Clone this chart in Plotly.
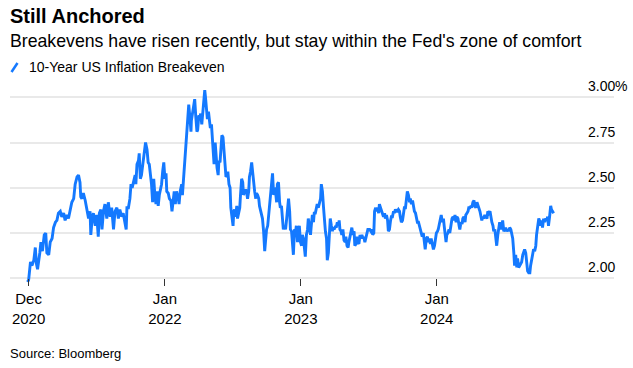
import pandas as pd
import plotly.graph_objects as go

# ---- data ----
start_date = "2020-12-31"
day_offsets = [
    -3, 0, 5, 9, 14, 18, 21, 24, 30, 33, 37, 42, 46, 49, 54, 58, 63, 67, 72, 76, 80, 85, 89, 94, 98,
    103, 107, 112, 116, 121, 125, 130, 134, 138, 140, 143, 147, 152, 156, 161, 165, 167, 171, 174,
    179, 183, 187, 190, 194, 197, 201, 205, 210, 214, 219, 223, 228, 232, 237, 241, 245, 250, 254, 259,
    262, 264, 268, 272, 275, 278, 282, 286, 288, 291, 295, 297, 300, 303, 306, 310, 314, 318, 321, 324,
    328, 330, 333, 336, 339, 342, 345, 348, 351, 354, 357, 360, 363, 366, 369, 371, 375, 378, 382, 385,
    388, 391, 394, 397, 402, 404, 407, 411, 413, 416, 419, 422, 425, 427, 430, 433, 436, 437, 440, 444,
    446, 449, 452, 454, 457, 460, 462, 465, 468, 470, 473, 475, 477, 480, 483, 485, 488, 491, 493, 496,
    498, 501, 503, 506, 509, 511, 514, 517, 519, 522, 525, 527, 530, 533, 535, 538, 541, 543, 546, 549,
    551, 553,
    556, 559, 561, 564, 567, 569, 572, 575, 577, 580, 583, 585, 588, 591, 593, 596, 599, 602, 604, 607,
    610, 612, 615, 618, 620, 623, 626, 628, 631, 634, 636, 639, 642, 644, 647, 650, 652, 655, 658, 660,
    663, 666, 668, 671, 674, 676, 679, 682, 684, 687, 690, 693, 695, 698, 701, 703, 706, 709, 711, 714,
    717, 719, 722, 725, 727, 730, 733, 735, 738, 741, 743, 746, 749, 751, 754, 757, 759, 762, 765, 767,
    770, 773, 775, 778, 781, 784, 786, 789, 792, 794, 797, 800, 802, 805, 808, 810, 813, 816, 818, 821,
    824, 826, 829, 832, 834,
    836, 839, 841, 844, 847, 850, 852, 855, 858, 860, 863, 866, 868, 871, 874, 876, 879, 882, 884, 887,
    890, 892, 895, 898, 900, 903, 906, 908, 911, 914, 916, 919, 922, 924, 927, 929, 932, 934, 937, 940,
    942, 945, 948, 950, 953, 956, 958, 961, 964, 966, 969, 972, 974, 977, 980, 982, 985, 988, 990, 993,
    996, 998, 1001, 1004, 1007, 1009, 1012, 1015, 1017, 1020, 1023, 1025, 1028, 1031, 1033, 1036, 1039,
    1041, 1044, 1047, 1049, 1052, 1055, 1057, 1060, 1063, 1065, 1068, 1071, 1073, 1076, 1079, 1081, 1084,
    1087, 1090, 1092, 1095, 1098, 1100, 1103, 1106, 1108, 1111, 1114,
    1116, 1118, 1121, 1123, 1126, 1129, 1131, 1134, 1137, 1140, 1142, 1145, 1148, 1150, 1153, 1156, 1158,
    1161, 1164, 1166, 1169, 1172, 1174, 1177, 1180, 1182, 1185, 1188, 1190, 1193, 1196, 1198, 1201, 1204,
    1206, 1209, 1212, 1214, 1217, 1220, 1222, 1225, 1228, 1231, 1233, 1236, 1239, 1241, 1244, 1247, 1249,
    1252, 1255, 1257, 1260, 1263, 1265, 1268, 1271, 1273, 1276, 1279, 1281, 1284, 1287, 1289, 1292, 1295,
    1297, 1300, 1303, 1305, 1308, 1311, 1313, 1316, 1319, 1322, 1324, 1327, 1330, 1332, 1335, 1338, 1340,
    1343, 1346, 1348, 1351, 1354, 1356, 1359, 1362, 1364, 1367, 1370, 1372, 1375, 1378, 1380, 1383, 1386,
    1388, 1391, 1394, 1396, 1399, 1402, 1404, 1407, 1410,
]
breakeven = [
    1.98, 1.99, 2.09, 2.07, 2.10, 2.17, 2.08, 2.05, 2.14, 2.20, 2.15, 2.24, 2.25, 2.14, 2.13, 2.20, 2.22,
    2.28, 2.31, 2.32, 2.36, 2.37, 2.34, 2.36, 2.32, 2.35, 2.33, 2.39, 2.42, 2.44, 2.52, 2.56, 2.57, 2.53,
    2.45, 2.44, 2.47, 2.43, 2.39, 2.33, 2.37, 2.24, 2.34, 2.36, 2.29, 2.35, 2.23, 2.36, 2.38, 2.27, 2.37,
    2.41, 2.33, 2.42, 2.34, 2.39, 2.27, 2.37, 2.39, 2.33, 2.38, 2.34, 2.36, 2.31,
    2.27, 2.39, 2.39, 2.44, 2.52, 2.50, 2.54, 2.57, 2.52, 2.63, 2.65, 2.69, 2.55, 2.57, 2.62, 2.70, 2.75,
    2.71, 2.64, 2.63, 2.57, 2.52, 2.42, 2.55, 2.46, 2.41, 2.48, 2.40, 2.46, 2.50, 2.52, 2.59, 2.64, 2.55,
    2.58, 2.48, 2.47, 2.44, 2.43, 2.37, 2.43, 2.48, 2.41, 2.48, 2.44, 2.41, 2.48, 2.52, 2.46, 2.55, 2.61,
    2.70, 2.81, 2.90, 2.96, 2.89, 2.81, 2.87, 2.92, 2.98, 2.99, 2.89, 2.81, 2.82, 2.90, 2.89, 2.91, 2.85,
    2.92, 2.98, 3.04, 3.00, 2.94, 2.88, 2.92, 2.87, 2.83, 2.85, 2.79, 2.70, 2.63, 2.75, 2.66, 2.61, 2.57,
    2.65, 2.64, 2.77, 2.79, 2.78, 2.70, 2.64, 2.56, 2.57, 2.59, 2.52, 2.50, 2.39, 2.34, 2.29, 2.37, 2.38,
    2.34, 2.40, 2.33, 2.37, 2.39, 2.46, 2.55, 2.53, 2.46, 2.48, 2.49, 2.48, 2.44, 2.48, 2.56, 2.59, 2.64,
    2.58, 2.52, 2.48, 2.44, 2.47, 2.46, 2.44, 2.40, 2.37, 2.36, 2.33, 2.26, 2.15, 2.20, 2.27, 2.29, 2.33,
    2.39, 2.46, 2.52, 2.58, 2.46, 2.50, 2.48, 2.42, 2.52, 2.53, 2.42, 2.39, 2.40, 2.34, 2.27, 2.29, 2.27,
    2.33, 2.37, 2.44, 2.37, 2.27, 2.26, 2.20, 2.13, 2.27, 2.26, 2.29, 2.20, 2.27, 2.29, 2.20, 2.18, 2.24,
    2.22, 2.16, 2.12, 2.24, 2.27, 2.33, 2.27, 2.24, 2.29, 2.35, 2.31, 2.36, 2.36, 2.39, 2.41, 2.39, 2.42,
    2.44, 2.52, 2.48, 2.39, 2.31, 2.26, 2.22, 2.10, 2.14, 2.25, 2.33, 2.29, 2.26, 2.28, 2.27, 2.29, 2.28,
    2.31, 2.29, 2.32,
    2.27, 2.26, 2.24, 2.27, 2.21, 2.20, 2.23, 2.18, 2.17, 2.20, 2.24, 2.27, 2.28, 2.24, 2.26, 2.18, 2.19,
    2.23, 2.20, 2.19, 2.24, 2.22, 2.24, 2.22, 2.23, 2.20, 2.23, 2.26, 2.27, 2.27, 2.27, 2.26, 2.27, 2.24,
    2.25, 2.37, 2.39, 2.37, 2.39, 2.36, 2.41, 2.39, 2.37, 2.36, 2.34, 2.36, 2.33, 2.35, 2.32, 2.26, 2.27,
    2.32, 2.34, 2.34, 2.37, 2.36, 2.38, 2.37, 2.37, 2.38, 2.37, 2.34, 2.31, 2.32, 2.36, 2.39, 2.39, 2.43,
    2.48, 2.46, 2.42, 2.44, 2.41, 2.43, 2.40, 2.37, 2.36, 2.33, 2.31, 2.31, 2.29, 2.26, 2.24, 2.23, 2.25,
    2.20, 2.16, 2.22, 2.23, 2.20, 2.22, 2.19, 2.22, 2.19, 2.16, 2.18, 2.22, 2.25, 2.26, 2.27, 2.30, 2.34,
    2.35, 2.31, 2.33,
    2.29, 2.26, 2.20, 2.24, 2.25, 2.27, 2.25, 2.29, 2.33, 2.34, 2.32, 2.35, 2.31, 2.34, 2.33, 2.29, 2.27,
    2.31, 2.30, 2.33, 2.34, 2.31, 2.35, 2.36, 2.37, 2.39, 2.39, 2.40, 2.39, 2.42, 2.43, 2.40, 2.39, 2.42,
    2.41, 2.39, 2.37, 2.35, 2.32, 2.34, 2.33, 2.35, 2.34, 2.33, 2.37, 2.36, 2.37, 2.33, 2.31, 2.29, 2.26,
    2.27, 2.22, 2.18, 2.24, 2.27, 2.31, 2.27, 2.29, 2.32, 2.26, 2.27, 2.28, 2.26, 2.27, 2.26, 2.28, 2.27,
    2.25, 2.22, 2.14, 2.07, 2.13, 2.06, 2.11, 2.06, 2.07, 2.09, 2.09, 2.13, 2.15, 2.16, 2.14, 2.06, 2.04,
    2.03, 2.03, 2.07, 2.11, 2.14, 2.16, 2.15, 2.18, 2.24, 2.28, 2.33, 2.32, 2.29, 2.32, 2.28, 2.33, 2.31,
    2.33, 2.32, 2.34, 2.29, 2.34, 2.40, 2.38, 2.37, 2.36,
]
x_tick_dates = ["2020-12-31", "2022-01-01", "2023-01-01", "2024-01-01"]
x_tick_labels = ["Dec<br>2020", "Jan<br>2022", "Jan<br>2023", "Jan<br>2024"]
y_tick_values = [2.00, 2.25, 2.50, 2.75, 3.00]
y_tick_labels = ["2.00", "2.25", "2.50", "2.75", "3.00"]
series_name = "10-Year US Inflation Breakeven"

BLUE = "#1479ff"
FONT = "Liberation Sans, Arial, sans-serif"

dates = pd.Timestamp(start_date) + pd.to_timedelta(day_offsets, unit="D")

fig = go.Figure()
fig.add_trace(go.Scatter(
    x=dates, y=breakeven, mode="lines", name=series_name,
    line=dict(color=BLUE, width=2.9), showlegend=False, hoverinfo="skip",
))

fig.update_layout(
    width=633, height=368,
    margin=dict(l=10, r=19, t=86, b=82),
    paper_bgcolor="white", plot_bgcolor="white",
    font=dict(family=FONT, color="#000000"),
)
fig.update_xaxes(
    range=["2020-11-11", "2025-04-21"],
    tickmode="array", tickvals=x_tick_dates, ticktext=x_tick_labels,
    ticks="inside", ticklen=7, tickwidth=1, tickcolor="#333333",
    ticklabelstandoff=2,
    showgrid=False, showline=False, zeroline=False,
    tickfont=dict(size=15, color="#000000", family=FONT),
)
fig.update_yaxes(
    range=[1.9575, 3.0624],
    tickmode="array", tickvals=y_tick_values, showticklabels=False,
    showgrid=True, gridcolor="#e9e9e9", gridwidth=1.5,
    zeroline=False, showline=False,
)

# baseline at 2.00
fig.add_shape(type="line", xref="paper", x0=0, x1=1, yref="y", y0=2.0, y1=2.0,
              line=dict(color="#333333", width=1.5), layer="below")

# y labels sitting above the gridlines on the right
for v, lab in zip(y_tick_values, y_tick_labels):
    fig.add_annotation(x=1, xref="paper", y=v, yref="y", text=lab, showarrow=False,
                       xanchor="right", yanchor="bottom", yshift=2, xshift=2, borderpad=0,
                       font=dict(size=14, color="#000000", family=FONT))
fig.add_annotation(x=1, xref="paper", y=y_tick_values[-1], yref="y", text="%", showarrow=False,
                   xanchor="left", yanchor="bottom", yshift=2, xshift=0, borderpad=0,
                   font=dict(size=14, color="#000000", family=FONT))

# title / subtitle / legend / source
fig.add_annotation(x=0, xref="paper", y=1.3525, yref="paper", text="<b>Still Anchored</b>",
                   showarrow=False, xanchor="left", yanchor="middle", borderpad=0, xshift=-1,
                   font=dict(size=20, color="#000000", family=FONT))
fig.add_annotation(x=0, xref="paper", y=1.2235, yref="paper",
                   text="Breakevens have risen recently, but stay within the Fed's zone of comfort",
                   showarrow=False, xanchor="left", yanchor="middle", borderpad=0, xshift=-1,
                   font=dict(size=17.7, color="#000000", family=FONT))
fig.add_shape(type="line", xref="paper", yref="paper",
              x0=1.5 / 604, x1=7.5 / 604, y0=1 + (86 - 72) / 200, y1=1 + (86 - 63) / 200,
              line=dict(color=BLUE, width=2.5))
fig.add_annotation(x=18 / 604, xref="paper", y=1.0935, yref="paper", text=series_name,
                   showarrow=False, xanchor="left", yanchor="middle", borderpad=0,
                   font=dict(size=14, color="#000000", family=FONT))
fig.add_annotation(x=0, xref="paper", y=-0.335, yref="paper", text="Source: Bloomberg",
                   showarrow=False, xanchor="left", yanchor="middle", borderpad=0, xshift=-1,
                   font=dict(size=13, color="#000000", family=FONT))

fig.write_html("out.html", config={"displayModeBar": False},
               post_script="document.body.style.margin='0px';")
